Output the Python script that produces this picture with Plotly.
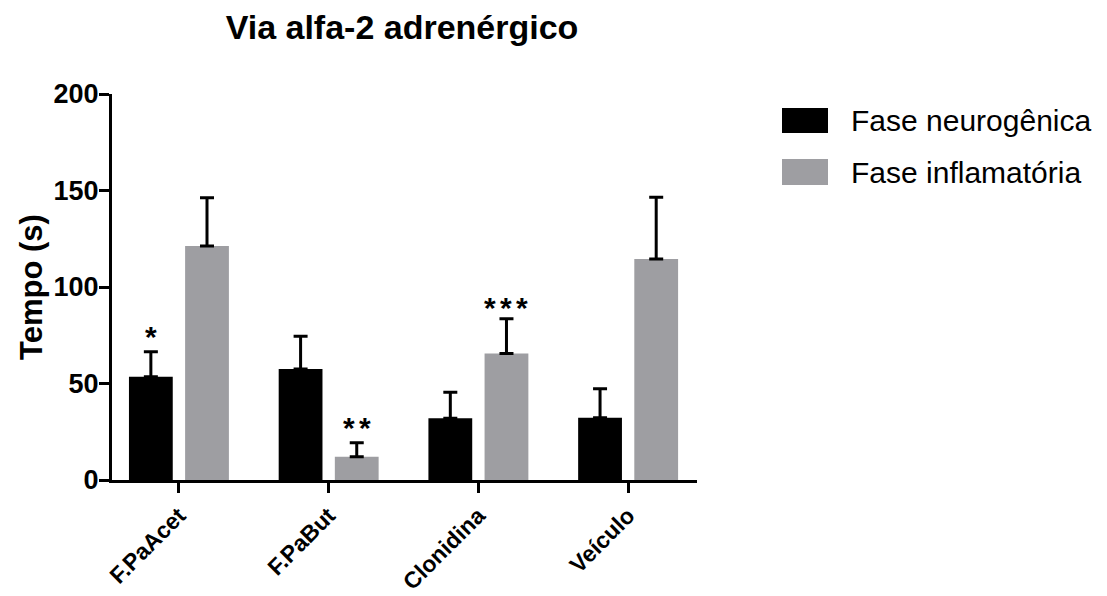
import plotly.graph_objects as go

categories = ["F.PaAcet", "F.PaBut", "Clonidina", "Veículo"]
neuro = [53.5, 57.5, 32.0, 32.3]
neuro_err = [13.0, 17.0, 13.5, 15.0]
inflam = [121.2, 12.0, 65.6, 114.5]
inflam_err = [25.0, 7.3, 18.0, 32.0]
series_names = ["Fase neurogênica", "Fase inflamatória"]
# significance marks: (category index, series index, y position, number of stars)
sig_marks = [(0, 0, 76.7, 1), (1, 1, 29.7, 2), (2, 1, 92.2, 3)]
y_ticks = [0, 50, 100, 150, 200]

BLACK = "#000000"
GRAY = "#9e9ea2"
FONT = "Arial, 'Liberation Sans', sans-serif"

# page body has an 8px margin; figure is sized so it fills the 1107x596 window
OFF = 8
W, H = 1107 - OFF, 596 - OFF
# plot area in screen pixels
L, R, T, B = 112, 697, 94, 480
pw, ph = R - L, B - T

def px_x(p):
    return (p - L) / pw

def px_y(p):
    return (B - p) / ph

x_idx = list(range(len(categories)))
fig = go.Figure()
fig.add_trace(go.Bar(
    x=x_idx, y=neuro, name=series_names[0], marker=dict(color=BLACK, line=dict(width=0)),
    error_y=dict(type="data", array=neuro_err, arrayminus=[0] * 4, symmetric=False,
                 color="black", thickness=3, width=7),
    showlegend=False,
))
fig.add_trace(go.Bar(
    x=x_idx, y=inflam, name=series_names[1], marker=dict(color=GRAY, line=dict(width=0)),
    error_y=dict(type="data", array=inflam_err, arrayminus=[0] * 4, symmetric=False,
                 color="black", thickness=3, width=7),
    showlegend=False,
))

bargap = 0.25
slot = (1 - bargap) / 2
for ci, si, yv, n in sig_marks:
    xoff = -slot / 2 if si == 0 else slot / 2
    for k in range(n):
        fig.add_annotation(x=ci + xoff, y=yv, xref="x", yref="y", text="<b>*</b>",
                           showarrow=False, yanchor="middle", xanchor="center",
                           yshift=-5, xshift=(k - (n - 1) / 2) * 16,
                           font=dict(family=FONT, size=30, color="black"))

# legend drawn as swatches + labels
legend_items = [(BLACK, series_names[0], 108, 133), (GRAY, series_names[1], 159, 185)]
for col, name, y0, y1 in legend_items:
    fig.add_shape(type="rect", xref="paper", yref="paper", x0=px_x(782), x1=px_x(828),
                  y0=px_y(y1), y1=px_y(y0), fillcolor=col, line=dict(width=0))
    fig.add_annotation(xref="paper", yref="paper", x=px_x(849), y=px_y((y0 + y1) / 2),
                       text=name, showarrow=False, xanchor="left", yanchor="middle",
                       font=dict(family=FONT, size=30, color="black"))

fig.update_layout(
    width=W, height=H,
    margin=dict(l=L - OFF, r=W - (R - OFF), t=T - OFF, b=H - (B - OFF), autoexpand=False),
    paper_bgcolor="white", plot_bgcolor="white",
    barmode="group", bargap=bargap, bargroupgap=0.22,
    title=dict(text="<b>Via alfa-2 adrenérgico</b>", x=px_x(402), xref="paper",
               y=1 - (27 - OFF) / H, yref="container", xanchor="center", yanchor="middle",
               font=dict(family=FONT, size=34, color="black")),
    font=dict(family=FONT, color="black"),
)
fig.update_xaxes(
    range=[-0.447, 3.46], tickmode="array", tickvals=x_idx,
    ticktext=[f"<b>{c}</b>" for c in categories], tickangle=-45,
    showline=True, linecolor="black", linewidth=3, ticks="outside", ticklen=10,
    tickwidth=3, tickcolor="black", showgrid=False, zeroline=False,
    tickfont=dict(family=FONT, size=23, color="black"), automargin=False,
)
fig.update_yaxes(
    range=[0, 200], tickmode="array", tickvals=y_ticks,
    ticktext=[f"<b>{v}</b>" for v in y_ticks],
    showline=True, linecolor="black", linewidth=3, ticks="outside", ticklen=10,
    tickwidth=3, tickcolor="black", showgrid=False, zeroline=False,
    tickfont=dict(family=FONT, size=27, color="black"), automargin=False,
    ticklabelstandoff=-5,
    title=dict(text="<b>Tempo (s)</b>", standoff=2,
               font=dict(family=FONT, size=31, color="black")),
)
fig.write_html("out.html")
